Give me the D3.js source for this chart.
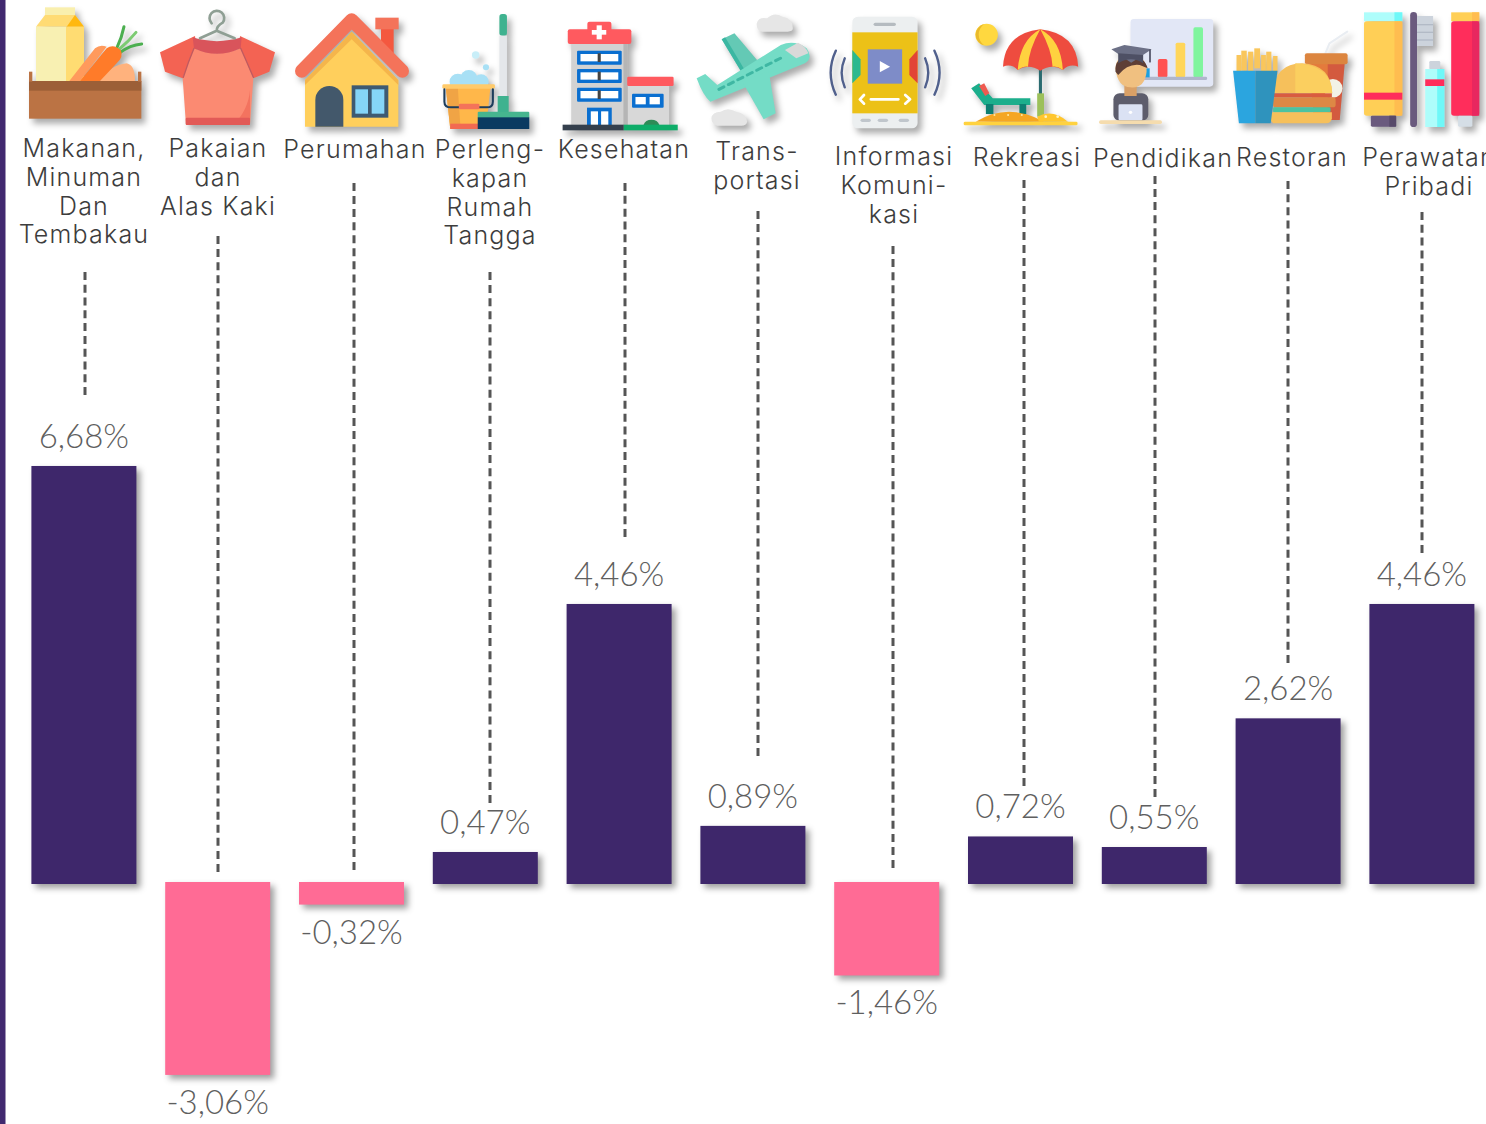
<!DOCTYPE html>
<html><head><meta charset="utf-8">
<script src="https://cdn.jsdelivr.net/npm/d3@7/dist/d3.min.js"></script>
<style>
html,body{margin:0;padding:0;background:#fff;overflow:hidden}
svg{display:block}
.cat{font-family:Inter,Lato,sans-serif;font-weight:300;font-size:25px;letter-spacing:1.2px;fill:#3d3d3d;text-anchor:middle}
.val{font-family:Lato,sans-serif;font-weight:300;font-size:33px;fill:#5f5f5f;text-anchor:middle}
.icon{filter:drop-shadow(4px 5px 3px rgba(0,0,0,.33))}
.bar{filter:drop-shadow(4px 4px 3px rgba(0,0,0,.38))}
</style></head><body>
<svg id="c" width="1486" height="1124"></svg>
<script>
// ---- data ----
const categories = ["Makanan, Minuman Dan Tembakau","Pakaian dan Alas Kaki","Perumahan","Perlengkapan Rumah Tangga","Kesehatan","Transportasi","Informasi Komunikasi","Rekreasi","Pendidikan","Restoran","Perawatan Pribadi"];
const values = [6.68,-3.06,-0.32,0.47,4.46,0.89,-1.46,0.72,0.55,2.62,4.46];
const labelLines = [["Makanan,","Minuman","Dan","Tembakau"],["Pakaian","dan","Alas Kaki"],["Perumahan"],["Perleng-","kapan","Rumah","Tangga"],["Kesehatan"],["Trans-","portasi"],["Informasi","Komuni-","kasi"],["Rekreasi"],["Pendidikan"],["Restoran"],["Perawatan","Pribadi"]];
// ---- layout ----
const labelX = [84,218,355,490,624,757,894,1027,1163,1292,1429];
const labelBase = [157,157,158,158,158,160,165,166,167,166,166];
const leaderX = [85,218,354,490,625,758,893,1024,1155,1288,1422];
const leaderTop = [272,236,183,272,183,211,246,180,176,181,212];
const leaderEnd = [395,872,870,803,537,756,868,786,797,663,553];
const PURPLE="#3e276b", PINK="#ff6b95";

const svg=d3.select("#c");
svg.append("rect").attr("x",0).attr("y",0).attr("width",5.5).attr("height",1124).attr("fill","#41296f");

const x=d3.scaleBand().domain(categories).range([31.4,1474.4]).paddingInner(0.2152).paddingOuter(0);
const y=d3.scaleLinear().domain([0,1]).range([881.2,819.04]);
const barTop=d=>d>=0?y(d):y(0)+0.8;
const barBot=d=>d>=0?y(0)+2.8:y(d)+3.5;

// leaders: dash length fixed, gap fitted so each line ends on a dash
svg.append("g").selectAll("line").data(categories).join("line")
 .attr("x1",(d,i)=>leaderX[i]).attr("x2",(d,i)=>leaderX[i])
 .attr("y1",(d,i)=>leaderTop[i]).attr("y2",(d,i)=>leaderEnd[i])
 .attr("stroke","#555").attr("stroke-width",3)
 .attr("stroke-dasharray",(d,i)=>{
   const L=leaderEnd[i]-leaderTop[i], n=Math.round((L+5)/13), gap=(L-n*8)/(n-1);
   return "8 "+gap.toFixed(3);
 });

// bars
svg.append("g").selectAll("rect").data(values).join("rect").attr("class","bar")
 .attr("x",(d,i)=>x(categories[i])).attr("width",x.bandwidth())
 .attr("y",d=>barTop(d)).attr("height",d=>barBot(d)-barTop(d))
 .attr("fill",d=>d>=0?PURPLE:PINK);

// value labels
svg.append("g").selectAll("text").data(values).join("text").attr("class","val")
 .attr("x",(d,i)=>x(categories[i])+x.bandwidth()/2)
 .attr("y",d=>d>=0?barTop(d)-18:barBot(d)+39)
 .text(d=>d.toFixed(2).replace(".",",")+"%");

// category labels
const cg=svg.append("g");
labelLines.forEach((lines,i)=>{
  lines.forEach((t,j)=>cg.append("text").attr("class","cat")
    .attr("x",labelX[i]).attr("y",labelBase[i]+j*28.8).text(t));
});

// ---- icons (decorative pictograms) ----
function ic(tx,sx){
  const g=svg.append("g").attr("class","icon").append("g")
    .attr("transform",`translate(${tx},0) scale(${1/sx},${1/3})`);
  return {
    r:(x,y,w,h,f,rx=0)=>g.append("rect").attr("x",x).attr("y",y).attr("width",w).attr("height",h).attr("fill",f).attr("rx",rx),
    p:(d,f)=>g.append("path").attr("d",d).attr("fill",f),
    s:(d,c,w)=>g.append("path").attr("d",d).attr("fill","none").attr("stroke",c).attr("stroke-width",w).attr("stroke-linecap","round").attr("stroke-linejoin","round"),
    c:(x,y,r,f)=>g.append("circle").attr("cx",x).attr("cy",y).attr("r",r).attr("fill",f)
  };
}
let a;
// food box
a=ic(0,3);
a.r(135,22,90,25,"#f9efae");
a.p("M135,45H225L252,80H108Z","#ffdb74");a.p("M225,45L252,80H200Z","#ffb80f");
a.r(108,80,90,165,"#f8f0b2");a.r(198,80,54,165,"#ffdc72");
a.p("M300,243Q330,195 380,190Q405,195 405,243Z","#ffb27d");
a.s("M350,145Q365,115 372,80","#4caf50",9);a.s("M355,150Q385,125 408,97","#7ccb72",9);a.s("M360,158Q390,135 425,132","#4caf50",9);
a.p("M208,243L285,145Q300,132 320,140L240,243Z","#ff9a5c");
a.p("M240,243L320,145Q340,130 362,150Q372,170 350,190L300,243Z","#ff7b29");
a.r(87,243,337,113,"#bb7344");a.r(87,243,337,29,"#9c5f37");
a.r(87,215,10,30,"#bb7344");a.r(414,215,10,30,"#bb7344");
// shirt
a=ic(0,3);
a.p("M585,108L480,157L495,215L548,235L590,150Z","#f36353");
a.p("M720,108L825,157L808,215L760,235L718,150Z","#f36353");
a.p("M582,145Q650,175 722,145L760,235L750,375H558L548,235Z","#fb8a72");
a.p("M750,270L750,375H700Q745,330 750,270Z","#f3735f");
a.r(557,353,193,22,"#e25a57",4);
a.p("M578,112Q650,135 725,112L722,145Q650,178 582,145Z","#d9545b");
a.s("M582,145Q565,185 550,232M722,145Q740,185 760,232","#c05a60",4);
a.s("M635,70A22,22 0 1 1 668,68Q650,78 650,92L600,115M650,92L704,115","#8f9f94",8);
// house
a=ic(0,3);
a.r(1143,85,38,75,"#f4583f");a.r(1126,53,70,35,"#f4735a");
a.p("M915,240L1055,95L1195,240V380H915Z","#ffcf5c");
a.p("M915,240L1055,95L1195,240V255L1055,118L915,255Z","#f5b54b");
a.s("M905,213L1055,60L1207,213","#f4735a",40);
a.p("M946,380V300A42,42 0 0 1 1030,300V380Z","#43586b");
a.r(1055,256,110,97,"#3e5a72");a.r(1066,268,38,73,"#85d5f8");a.r(1115,268,38,73,"#85d5f8");
// bucket & mop
a=ic(420,2.91);
a.r(231,42,22,65,"#3fb28f",8);a.r(231,107,22,185,"#e4e7ea");a.r(226,288,32,50,"#3fb28f");
a.c(162,165,11,"#c8eef8");a.c(192,202,9,"#a8e0f5");
a.c(110,245,24,"#a8e0f5");a.c(142,235,25,"#a8e0f5");a.c(178,245,22,"#a8e0f5");
a.p("M75,262H205L192,386H88Z","#ffb74a");a.p("M75,262H110L118,386H88Z","#f0a445");
a.r(65,253,153,13,"#ffca6a",4);a.r(88,371,104,16,"#f26a52");
a.s("M71,268V305Q71,322 90,322H195Q212,322 212,305V268","#1d3d5c",6);
a.r(113,311,60,17,"#f4735a",4);
a.r(168,335,150,20,"#46b58f",3);a.r(168,352,150,35,"#0a3a61");
// hospital
a=ic(420,2.91);
a.r(440,130,165,246,"#d2d2d2");a.r(592,130,13,246,"#b5b5b5");
a.r(430,88,185,44,"#ff5a5f",6);a.r(487,65,70,30,"#ff5a5f",6);
a.r(514,76,15,42,"#fff");a.r(500,90,42,14,"#fff");
[152,207,263].forEach(t=>{a.r(457,t,130,42,"#0a6fd0",3);a.r(467,t+10,110,22,"#fff");a.r(517,t+8,9,26,"#444");});
a.r(486,323,72,55,"#0a6fd0");a.r(497,334,21,44,"#fff");a.r(527,334,21,44,"#fff");
a.r(605,255,120,122,"#d8d8d8");a.r(603,230,135,28,"#ff5a5f",4);
a.r(617,281,92,42,"#0a6fd0",3);a.r(627,291,30,22,"#fff");a.r(668,291,30,22,"#fff");
a.p("M650,376A25,25 0 0 1 697,376Z","#2e8b57");
a.r(415,374,178,17,"#35404d");a.r(593,374,157,17,"#0ead69");
// plane
a=ic(420,2.91);
a.p("M980,70Q985,50 1010,55Q1030,35 1055,50Q1085,55 1085,85Q1085,95 1070,95H995Q978,90 980,70Z","#e6e6e6");
a.p("M848,355Q850,335 875,335Q895,320 920,335Q950,340 952,365Q950,377 935,377H865Q848,372 848,355Z","#e6e6e6");
a.p("M878,118L915,100L985,185L935,215Z","#64c9b5");a.p("M878,118L888,112L945,210L935,215Z","#3bb7a2");
a.p("M805,235L830,222L865,255L1050,135Q1090,118 1125,145Q1145,175 1120,190L845,305Q825,290 805,235Z","#74dcc6");
a.p("M1062,150L1100,128Q1125,140 1130,160L1095,175Z","#d9d9d9");
a.p("M935,240L1015,215L1035,340L1000,358Z","#74dcc6");
a.s("M870,268L1058,170","#3fb7a3",9).attr("stroke-dasharray","16 15");
// phone
a=ic(420,2.91);
a.r(1258,50,190,335,"#eceff0",16);a.r(1258,97,190,243,"#ecc117");
a.r(1320,68,65,10,"#b5bbc0",5);
a.r(1282,356,30,10,"#c0c6cc",5);a.r(1332,356,30,10,"#c0c6cc",5);a.r(1393,356,30,10,"#c0c6cc",5);
a.r(1303,148,100,103,"#7e8cc8");a.p("M1338,183L1368,200L1338,217Z","#fff");
a.p("M1258,150L1282,178V225L1258,250Z","#2bb88f");a.p("M1448,150L1424,178V225L1448,250Z","#e24436");
a.s("M1312,298H1392M1292,285L1280,298L1292,311M1412,285L1426,298L1412,311","#fff",8);
a.s("M1210,152Q1180,218 1210,284M1236,175Q1218,218 1236,262M1470,175Q1488,218 1470,262M1497,152Q1527,218 1497,284","#50608c",7);
// beach
a=ic(950,2.925);
a.c(107,104,33,"#ffd83f");a.p("M100,72A33,33 0 0 0 100,136A40,40 0 0 1 100,72Z","#e9b92c");
a.r(260,200,9,90,"#2a6b70");a.r(255,280,20,70,"#9cc05a");
a.p("M155,200Q160,100 264,88Q370,100 375,200Q350,190 330,210Q300,190 264,212Q230,190 198,210Q180,190 155,200Z","#ee4c3f");
a.p("M198,210Q205,120 264,88Q230,150 228,200Q215,198 198,210ZM264,88Q325,120 330,210Q315,198 300,200Q298,150 264,88Z","#ffd23f");
a.p("M62,265L85,250L125,295H235V315H100Z","#1cae8c");a.p("M85,258L100,250L115,280L103,288Z","#ee5a50");
a.r(105,312,22,30,"#0e7f72");a.r(203,312,20,30,"#0e7f72");
a.p("M75,365Q170,305 275,365Z","#f5a623");a.p("M255,350Q300,325 345,365H260Z","#ffc62e");
a.r(40,365,333,11,"#ffd23f",4);
[130,170,210].forEach(v=>a.c(v,345,3,"#ffe9a0"));[280,315].forEach(v=>a.c(v,350,4,"#fff3c2"));
// education
a=ic(950,2.925);
a.r(528,57,242,203,"#e2e7f6",10);
a.r(608,177,28,55,"#ff5252",5);a.r(660,128,28,104,"#ffd65a",5);a.r(712,82,28,150,"#7ff59e",5);
a.r(560,230,192,10,"#b0b6cc",4);
a.r(568,205,16,27,"#1ca0e0");
a.r(478,280,102,82,"#5d5d6c",18);a.r(510,250,36,38,"#d9a066");
a.p("M484,205Q485,165 530,165Q578,170 575,215Q570,265 528,262Q490,262 484,205Z","#f0c080");
a.p("M484,215Q480,170 530,170Q570,170 578,205L555,195Q520,190 492,225Z","#5e3f36");
a.p("M510,135L590,148L530,188L472,148Z","#6c7086");a.p("M492,160L565,165V190Q530,165 492,190Z","#4e5064");
a.s("M585,150V185","#4e5064",5);
a.r(493,313,70,48,"#dbe2f4",4);a.c(528,337,5,"#fff");
a.r(436,361,184,11,"#f5dcae",5);
// restaurant
a=ic(950,2.925);
a.s("M1098,160L1110,130L1162,95","#e9edf2",6);
a.p("M1050,185H1155L1140,360H1065Z","#d35a3f");a.p("M1050,185H1105V360H1065Z","#e47a3c");
a.r(1038,160,125,33,"#dc853f",6);
a.c(1120,265,28,"#f2f2e6");
a.p("M945,280Q950,190 1030,190Q1115,195 1118,280Z","#f6c05b");a.p("M1010,190Q1115,195 1118,280H1010Z","#fbcf5f");
a.r(945,280,172,12,"#d95c40");a.r(945,292,183,30,"#dd8845",8);a.r(945,322,168,15,"#4cc3a0",4);
a.p("M937,337H1117V355Q1115,370 1100,370H945L937,360Z","#f6c05b");
[[838,165,14],[852,152,16],[872,155,15],[890,145,17],[910,165,14],[925,155,15],[945,168,13]].forEach(v=>a.r(v[0],v[1],v[2],60,"#f9c65c"));
a.p("M828,212H893V370H845Z","#2ba5df");a.p("M893,212H958L938,370H893Z","#2f93bd");
// personal care
a=ic(950,2.925);
a.r(1211,37,112,27,"#aefdfb");a.r(1300,37,23,27,"#6ff8f8");
a.r(1211,64,112,283,"#ffcf56",8);a.r(1300,64,23,283,"#ffbd50");
a.r(1211,278,112,21,"#ff2d5b");
a.r(1231,347,74,33,"#6a5a7e",4);a.r(1285,347,20,33,"#574a6a");
a.r(1346,36,20,345,"#6a5a7e",10);a.r(1366,48,47,90,"#ccd3dc");
[72,95,118].forEach(t=>a.r(1366,t,47,4,"#b2bac6"));
a.r(1402,183,32,25,"#ccd3dc",4);a.r(1390,207,56,174,"#aefdfb");a.r(1425,207,21,174,"#6ff8f8");a.r(1390,238,56,20,"#ff2d5b");
a.r(1466,37,82,27,"#ffcf56");a.r(1527,37,21,27,"#ffbd50");
a.r(1466,64,82,283,"#ff2d5b",8);a.r(1527,64,21,283,"#e8275f");
a.r(1486,347,42,33,"#d5dee6",4);
</script>
</body></html>
